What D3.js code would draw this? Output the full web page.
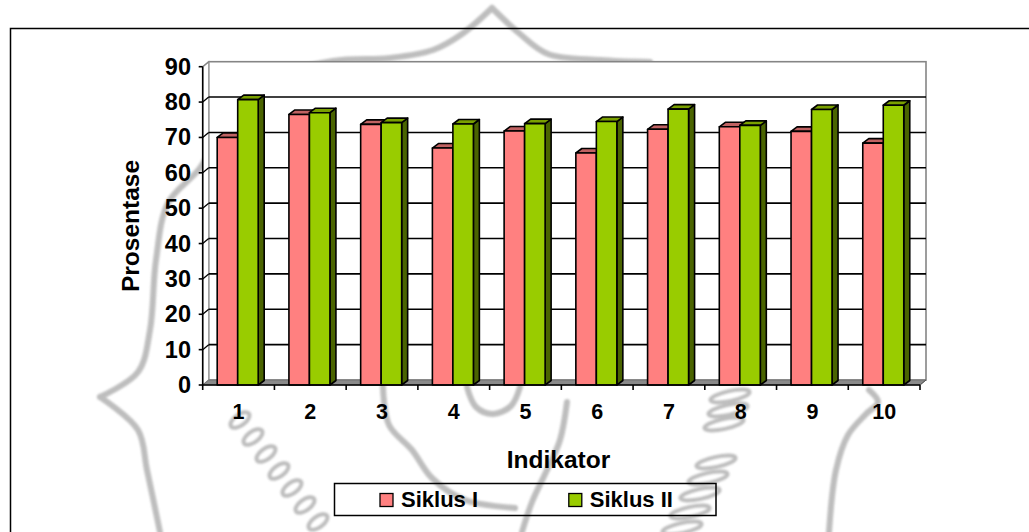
<!DOCTYPE html>
<html><head><meta charset="utf-8">
<script src="https://cdn.jsdelivr.net/npm/d3@7"></script>
<style>html,body{margin:0;padding:0;background:#fff;overflow:hidden}svg{display:block}</style>
</head><body><svg id="c" width="1029" height="532"></svg>
<script>
// ---- data ----
const categories = ["1","2","3","4","5","6","7","8","9","10"];
const seriesNames = ["Siklus I","Siklus II"];
const siklus1 = [70.0, 76.5, 73.7, 67.0, 71.8, 65.6, 72.3, 73.0, 71.7, 68.4];
const siklus2 = [80.7, 77.0, 74.2, 73.8, 73.9, 74.5, 78.0, 73.4, 77.9, 79.1];
const yTicks = [0,10,20,30,40,50,60,70,80,90];
const xTitle = "Indikator";
const yTitle = "Prosentase";

const colors = {
  "Siklus I":  {front:"#FF8080", top:"#C06262", side:"#993333"},
  "Siklus II": {front:"#99CC00", top:"#7AA000", side:"#4A6400"}
};
const values = {"Siklus I": siklus1, "Siklus II": siklus2};

const svg = d3.select("#c");
const font = "'Liberation Sans', Arial, sans-serif";

// blur filter for the faint watermark
svg.append("defs").append("filter").attr("id","soft").append("feGaussianBlur").attr("stdDeviation",1.1);

// ---- watermark (faint background logo) ----
const wm = svg.append("g").attr("fill","none").attr("stroke","#a8a8a8")
  .attr("stroke-width",6).attr("stroke-linecap","round").attr("stroke-linejoin","round")
  .attr("opacity",0.75).attr("filter","url(#soft)");
const cr = d3.line().curve(d3.curveCatmullRom.alpha(0.5));
const wmPaths = [
  [[492,8],[462,34],[433,50],[390,58],[333,61],[270,80],[225,125],[200,168],[168,203],[156,260],[150,330],[138,372],[100,397]],
  [[100,397],[138,430],[147,470],[160,532]],
  [[492,8],[520,34],[548,54],[600,60],[650,62]],
  [[869,390],[878,402],[866,414],[848,435],[836,470],[829,532]],
  [[383,387],[389,425],[412,450],[432,478],[465,500],[515,508]],
  [[567,402],[560,440],[546,472],[532,502],[522,532]],
  [[467,387],[476,407],[493,414],[511,406],[520,387]]
];
wmPaths.forEach(p => wm.append("path").attr("d", cr(p)));
const chainA = d3.range(7).map(i => [240 + i*13, 420 + i*17]);
chainA.forEach(c => wm.append("ellipse").attr("cx",c[0]).attr("cy",c[1]).attr("rx",11).attr("ry",5.5)
  .attr("stroke-width",4).attr("transform",`rotate(-36,${c[0]},${c[1]})`));
const chainB = [[730,396],[728,410],[724,424],[716,462],[708,478],[700,494],[690,512],[682,528]];
chainB.forEach(c => wm.append("ellipse").attr("cx",c[0]).attr("cy",c[1]).attr("rx",20).attr("ry",5)
  .attr("stroke-width",4).attr("transform",`rotate(-12,${c[0]},${c[1]})`));

// ---- outer border ----
svg.append("rect").attr("x",10.5).attr("y",28.5).attr("width",1040).attr("height",620)
  .attr("fill","none").attr("stroke","#000").attr("stroke-width",1.5);

// ---- geometry ----
const X0 = 202.7, X1 = 920, Y0 = 385, YT = 66.7;
const WDX = 6, WDY = -5, BDX = 6, BDY = -4.5;
const x = d3.scaleBand().domain(categories).range([X0, X1]).padding(0);
const xs = d3.scaleBand().domain(seriesNames).range([14.5, 55.5]).padding(0);
const y = d3.scaleLinear().domain([0, 90]).range([Y0, YT]);

const g = svg.append("g");
// back wall
g.append("rect").attr("x", X0+WDX).attr("y", y(90)+WDY).attr("width", X1-X0).attr("height", Y0-YT)
  .attr("fill","#fff").attr("stroke","#858585").attr("stroke-width",1.6);
// left wall
g.append("polygon").attr("points", [[X0,Y0],[X0,y(90)],[X0+WDX,y(90)+WDY],[X0+WDX,Y0+WDY]].join(" "))
  .attr("fill","#fff").attr("stroke","#9a9a9a").attr("stroke-width",1.2);
// gridlines on back wall
g.selectAll(".grid").data(yTicks.filter(v => v > 0 && v < 90)).enter().append("line")
  .attr("x1", X0+WDX).attr("x2", X1+WDX).attr("y1", d => y(d)+WDY).attr("y2", d => y(d)+WDY)
  .attr("stroke","#000").attr("stroke-width",1.6);
// gridlines on side wall
g.selectAll(".sgrid").data(yTicks.filter(v => v > 0)).enter().append("line")
  .attr("x1", X0).attr("x2", X0+WDX).attr("y1", d => y(d)).attr("y2", d => y(d)+WDY)
  .attr("stroke", d => d === 90 ? "#858585" : "#000").attr("stroke-width",1.3);
// floor
g.append("polygon").attr("points", [[X0,Y0],[X1,Y0],[X1+WDX,Y0+WDY],[X0+WDX,Y0+WDY]].join(" "))
  .attr("fill","#8a8a8a").attr("stroke","#6a6a6a").attr("stroke-width",0.8);

// bars
const bars = g.append("g").attr("stroke","#000").attr("stroke-width",1.6).attr("stroke-linejoin","round");
categories.forEach((c, i) => {
  seriesNames.forEach(s => {
    const v = values[s][i];
    const bx = x(c) + xs(s), bw = xs.bandwidth(), yt = y(v), yb = y(0);
    const col = colors[s];
    bars.append("polygon").attr("fill", col.side)
      .attr("points", [[bx+bw,yt],[bx+bw+BDX,yt+BDY],[bx+bw+BDX,yb+BDY],[bx+bw,yb]].join(" "));
    bars.append("polygon").attr("fill", col.top)
      .attr("points", [[bx,yt],[bx+BDX,yt+BDY],[bx+bw+BDX,yt+BDY],[bx+bw,yt]].join(" "));
    bars.append("rect").attr("fill", col.front).attr("x", bx).attr("y", yt).attr("width", bw).attr("height", yb-yt);
  });
});

// axes
const ax = svg.append("g").attr("stroke","#000").attr("stroke-width",1.6);
ax.append("line").attr("x1",X0).attr("x2",X0).attr("y1",Y0).attr("y2",y(90));
ax.append("line").attr("x1",X0).attr("x2",X1).attr("y1",Y0).attr("y2",Y0);
ax.selectAll(".yt").data(yTicks).enter().append("line")
  .attr("x1",X0-4).attr("x2",X0).attr("y1",d=>y(d)).attr("y2",d=>y(d));
const bounds = categories.map(c => x(c)).concat([X1]);
ax.selectAll(".xt").data(bounds).enter().append("line")
  .attr("x1",d=>d).attr("x2",d=>d).attr("y1",Y0).attr("y2",Y0+5);
ax.append("line").attr("x1",X1).attr("y1",Y0).attr("x2",X1+WDX).attr("y2",Y0+WDY).attr("stroke","#555").attr("stroke-width",1);

const txt = svg.append("g").attr("font-family", font).attr("font-weight","bold").attr("fill","#000");
txt.selectAll(".yl").data(yTicks).enter().append("text")
  .attr("x",191).attr("y",d=>y(d)+8).attr("text-anchor","end").attr("font-size",23.5).text(d=>d);
txt.selectAll(".xl").data(categories).enter().append("text")
  .attr("x",d=>x(d)+x.bandwidth()/2).attr("y",418.5).attr("text-anchor","middle").attr("font-size",21.5).text(d=>d);
txt.append("text").attr("transform","translate(138.5,226) rotate(-90)").attr("text-anchor","middle")
  .attr("font-size",24.5).text(yTitle);
txt.append("text").attr("x",558.5).attr("y",467.5).attr("text-anchor","middle").attr("font-size",24.5).text(xTitle);

// legend
const lg = svg.append("g");
lg.append("rect").attr("x",334.5).attr("y",483.5).attr("width",381.5).attr("height",32)
  .attr("fill","none").attr("stroke","#000").attr("stroke-width",1.5);
const legX = {"Siklus I": 380, "Siklus II": 568.8};
seriesNames.forEach(s => {
  lg.append("rect").attr("x",legX[s]).attr("y",493.5).attr("width",13).attr("height",13)
    .attr("fill",colors[s].front).attr("stroke","#000").attr("stroke-width",1.3);
  lg.append("text").attr("x",legX[s]+21).attr("y",506.5).attr("font-family",font).attr("font-weight","bold")
    .attr("font-size",22).text(s);
});
</script></body></html>
